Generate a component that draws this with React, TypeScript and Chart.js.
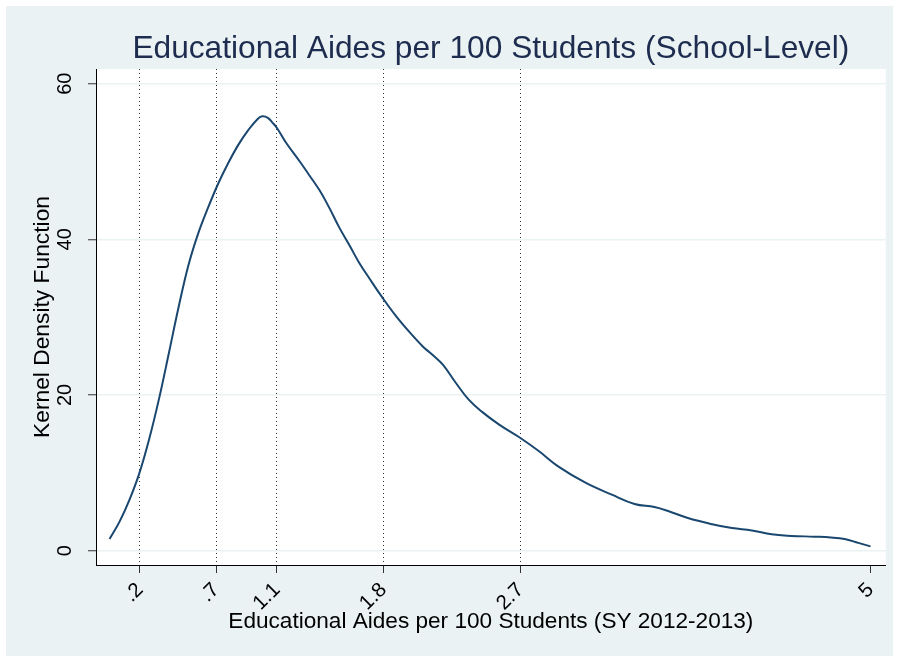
import React, { useEffect, useRef } from 'react';
import { Chart, registerables } from 'chart.js';

Chart.register(...registerables);

const chartTitle = 'Educational Aides per 100 Students (School-Level)';
const xAxisTitle = 'Educational Aides per 100 Students (SY 2012-2013)';
const yAxisTitle = 'Kernel Density Function';

const xTickValues = [0.2, 0.7, 1.1, 1.8, 2.7, 5];
const xTickLabels = ['.2', '.7', '1.1', '1.8', '2.7', '5'];
const xReferenceLines = [0.2, 0.7, 1.1, 1.8, 2.7];
const yTickValues = [0, 20, 40, 60];
const yTickLabels = ['0', '20', '40', '60'];

const densityX = [
  0.0, 0.065, 0.13, 0.195, 0.26, 0.325, 0.39, 0.455, 0.52, 0.585,
  0.65, 0.715, 0.78, 0.845, 0.91, 0.975, 1.005, 1.04, 1.07, 1.1,
  1.16, 1.25, 1.31, 1.38, 1.44, 1.51, 1.58, 1.64, 1.71, 1.79,
  1.88, 1.97, 2.06, 2.12, 2.19, 2.27, 2.36, 2.45, 2.56, 2.69,
  2.82, 2.95, 3.13, 3.3, 3.45, 3.58, 3.67, 3.8, 3.96, 4.09,
  4.22, 4.35, 4.48, 4.63, 4.74, 4.83, 4.92, 5.0,
];
const densityY = [
  1.5, 3.7, 6.5, 9.9, 14.3, 19.5, 25.4, 31.4, 36.8, 40.9,
  44.2, 47.2, 49.8, 52.1, 54.0, 55.5, 55.8, 55.6, 55.0, 54.3,
  52.4, 50.0, 48.3, 46.3, 44.2, 41.5, 39.1, 37.0, 34.9, 32.6,
  30.2, 28.1, 26.2, 25.2, 23.9, 21.7, 19.4, 17.8, 16.2, 14.6,
  12.8, 10.8, 8.7, 7.2, 6.0, 5.6, 5.1, 4.2, 3.4, 2.9,
  2.6, 2.1, 1.9, 1.8, 1.7, 1.5, 1.0, 0.55,
];

const FONT = '"Liberation Sans", Arial, Helvetica, sans-serif';
const BG = '#EAF2F3';

export default function App() {
  const canvasRef = useRef<HTMLCanvasElement | null>(null);

  useEffect(() => {
    const canvas = canvasRef.current;
    if (!canvas) return;

    const plotBackground = {
      id: 'plotBackground',
      beforeDraw(chart: any) {
        const { ctx, chartArea } = chart;
        ctx.save();
        ctx.fillStyle = '#ffffff';
        ctx.fillRect(chartArea.left, chartArea.top, chartArea.right - chartArea.left, chartArea.bottom - chartArea.top);
        ctx.restore();
      },
    };

    const mainTitle = {
      id: 'mainTitle',
      afterDraw(chart: any) {
        const { ctx, chartArea } = chart;
        ctx.save();
        ctx.font = `31.7px ${FONT}`;
        ctx.fillStyle = '#1d2c4f';
        ctx.textAlign = 'center';
        ctx.textBaseline = 'alphabetic';
        ctx.fillText(chartTitle, (chartArea.left + chartArea.right) / 2, 51.7);
        ctx.restore();
      },
    };

    const chart = new Chart(canvas, {
      type: 'line',
      data: {
        datasets: [
          {
            data: densityX.map((x, i) => ({ x, y: densityY[i] })),
            borderColor: '#1a476f',
            borderWidth: 2,
            pointRadius: 0,
            fill: false,
            tension: 0.4,
          },
        ],
      },
      options: {
        animation: false,
        responsive: false,
        maintainAspectRatio: false,
        layout: { padding: { top: 63, right: 6, left: 0, bottom: 0 } },
        plugins: {
          legend: { display: false },
          tooltip: { enabled: false },
          title: { display: false },
        },
        scales: {
          x: {
            type: 'linear',
            min: -0.089,
            max: 5.1,
            afterBuildTicks: (s: any) => {
              s.ticks = xTickValues.map((v) => ({ value: v }));
            },
            afterFit: (s: any) => {
              s.height = 91;
            },
            ticks: {
              autoSkip: false,
              minRotation: 45,
              maxRotation: 45,
              padding: 5,
              color: '#000',
              font: { family: FONT, size: 20.5 },
              callback: (v: any) => xTickLabels[xTickValues.indexOf(Number(v))],
            },
            grid: {
              color: (c: any) =>
                c.tick && xReferenceLines.includes(c.tick.value) ? '#333333' : 'rgba(0,0,0,0)',
              lineWidth: 1,
              drawTicks: true,
              tickLength: 8,
              tickColor: '#333',
              tickWidth: 1,
            },
            border: { display: true, color: '#000', width: 1, dash: [1, 3] },
            title: {
              display: true,
              text: xAxisTitle,
              color: '#000',
              font: { family: FONT, size: 22.6 },
              padding: { top: 0, bottom: 20.5 },
            },
          },
          y: {
            type: 'linear',
            min: -1.84,
            max: 61.88,
            afterBuildTicks: (s: any) => {
              s.ticks = yTickValues.map((v) => ({ value: v }));
            },
            afterFit: (s: any) => {
              s.width = 90;
            },
            ticks: {
              minRotation: 90,
              maxRotation: 90,
              crossAlign: 'center',
              padding: 11.6,
              color: '#000',
              font: { family: FONT, size: 20 },
              callback: (v: any) => yTickLabels[yTickValues.indexOf(Number(v))],
            },
            grid: {
              color: BG,
              lineWidth: 1.5,
              drawTicks: true,
              tickLength: 8,
              tickColor: '#333',
              tickWidth: 1,
            },
            border: { display: true, color: '#000', width: 1 },
            title: {
              display: true,
              text: yAxisTitle,
              color: '#000',
              font: { family: FONT, size: 22.8 },
              padding: { top: 23.5, bottom: 0 },
            },
          },
        },
      },
      plugins: [plotBackground, mainTitle],
    } as any);

    return () => chart.destroy();
  }, []);

  return (
    <div style={{ position: 'absolute', left: 0, top: 0, width: 899, height: 658, background: '#ffffff' }}>
      <div style={{ position: 'absolute', left: 6, top: 6, width: 887, height: 650, background: BG }}>
        <canvas ref={canvasRef} width={887} height={650} style={{ display: 'block', width: 887, height: 650 }} />
      </div>
    </div>
  );
}
